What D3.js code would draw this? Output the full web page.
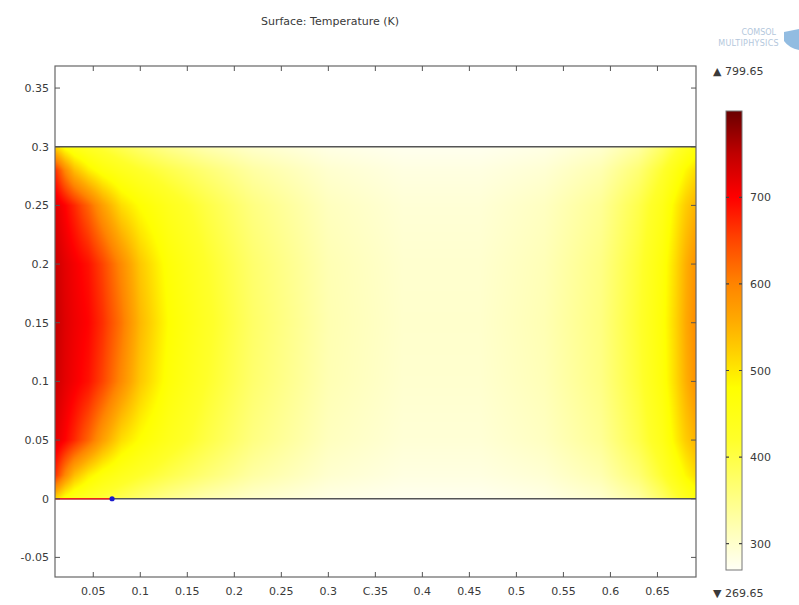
<!DOCTYPE html>
<html>
<head>
<meta charset="utf-8">
<script src="https://cdn.jsdelivr.net/npm/d3@7"></script>
<style>
  body { margin: 0; background: #fff; }
  svg { display: block; font-family: "DejaVu Sans", sans-serif; }
  .lbl { fill: #3a3a3a; font-size: 11px; }
</style>
</head>
<body>
<svg id="chart" width="799" height="605"></svg>
<script>
// grid positions (m) and temperatures (K)
var grid_x = [0.0093, 0.02, 0.03, 0.045, 0.06, 0.08, 0.1, 0.13, 0.17, 0.22, 0.3, 0.38, 0.46, 0.53, 0.59, 0.63, 0.655, 0.67, 0.68, 0.691];
var grid_y = [0, 0.02, 0.05, 0.1, 0.15, 0.2, 0.25, 0.28, 0.3];
var temp_y000 = [520, 470, 445, 425, 410, 390, 370, 345, 320, 300, 282, 275, 275, 282, 298, 330, 375, 410, 435, 460];
var temp_y002 = [670, 595, 540, 495, 465, 440, 420, 395, 365, 330, 298, 285, 285, 295, 320, 365, 415, 455, 485, 510];
var temp_y005 = [725, 700, 672, 625, 570, 510, 478, 440, 400, 355, 310, 293, 293, 308, 340, 395, 445, 495, 525, 550];
var temp_y010 = [742, 722, 708, 688, 652, 592, 530, 470, 420, 370, 318, 298, 298, 315, 352, 410, 465, 515, 552, 585];
var temp_y015 = [748, 726, 713, 698, 667, 612, 545, 480, 428, 375, 320, 300, 300, 318, 355, 415, 470, 520, 558, 592];
var temp_y020 = [742, 722, 708, 688, 652, 592, 530, 470, 420, 370, 318, 298, 298, 315, 352, 410, 465, 515, 552, 585];
var temp_y025 = [725, 700, 672, 625, 570, 510, 478, 440, 400, 355, 310, 293, 293, 308, 340, 395, 445, 495, 525, 550];
var temp_y028 = [670, 595, 540, 495, 465, 440, 420, 395, 365, 330, 298, 285, 285, 295, 320, 365, 415, 455, 485, 510];
var temp_y030 = [520, 470, 445, 425, 410, 390, 370, 345, 320, 300, 282, 275, 275, 282, 298, 330, 375, 410, 435, 460];
var temp_rows = [temp_y000, temp_y002, temp_y005, temp_y010, temp_y015, temp_y020, temp_y025, temp_y028, temp_y030];

var x_ticks = [0.05, 0.1, 0.15, 0.2, 0.25, 0.3, 0.35, 0.4, 0.45, 0.5, 0.55, 0.6, 0.65];
var x_tick_labels = ["0.05", "0.1", "0.15", "0.2", "0.25", "0.3", "C.35", "0.4", "0.45", "0.5", "0.55", "0.6", "0.65"];
var y_ticks = [-0.05, 0, 0.05, 0.1, 0.15, 0.2, 0.25, 0.3, 0.35];
var y_tick_labels = ["-0.05", "0", "0.05", "0.1", "0.15", "0.2", "0.25", "0.3", "0.35"];
var cbar_ticks = [300, 400, 500, 600, 700];
var temp_min = 269.65;
var temp_max = 799.65;
var heater_end = 0.07;

// colour map stops (K)
var cmap_stops = [269.65, 300, 350, 420, 480, 520, 560, 600, 650, 700, 750, 799.65];
var cmap_colors = ["#fffff6", "#ffffcc", "#ffff88", "#ffff2a", "#ffff00", "#ffd200", "#ffa800", "#ff8400", "#ff4600", "#ff0000", "#c00000", "#6a0000"];

var svg = d3.select("#chart");
var x = d3.scaleLinear().domain([0.0093, 0.691]).range([55, 696]);
var y = d3.scaleLinear().domain([-0.0667, 0.3688]).range([577, 66]);
var color = d3.scaleLinear().domain(cmap_stops).range(cmap_colors).clamp(true);

// title
svg.append("text").attr("class", "lbl")
  .attr("x", 330).attr("y", 25).attr("text-anchor", "middle")
  .style("font-size", "11px")
  .text("Surface: Temperature (K)");

// logo
var logo = svg.append("g").attr("fill", "#b3c7dc").style("font-size", "8px").attr("text-anchor", "end");
logo.append("text").attr("x", 776).attr("y", 35).text("COMSOL");
logo.append("text").attr("x", 779).attr("y", 46).style("letter-spacing", "0.3px").text("MULTIPHYSICS");
svg.append("path")
  .attr("d", "M784,32 L799,29 L799,50 Q789,48 784,41 Z")
  .attr("fill", "#7fb0dc").attr("opacity", 0.85);

// surface raster
function temp_at(xv, yv)
{
  let i = Math.max(0, Math.min(grid_x.length - 2, d3.bisectRight(grid_x, xv) - 1));
  let j = Math.max(0, Math.min(grid_y.length - 2, d3.bisectRight(grid_y, yv) - 1));
  let tx = Math.max(0, Math.min(1, (xv - grid_x[i]) / (grid_x[i + 1] - grid_x[i])));
  let ty = Math.max(0, Math.min(1, (yv - grid_y[j]) / (grid_y[j + 1] - grid_y[j])));
  let a = temp_rows[j][i] * (1 - tx) + temp_rows[j][i + 1] * tx;
  let b = temp_rows[j + 1][i] * (1 - tx) + temp_rows[j + 1][i + 1] * tx;
  return a * (1 - ty) + b * ty;
}

let px0 = Math.round(x(grid_x[0])), px1 = Math.round(x(grid_x[grid_x.length - 1]));
let py0 = Math.round(y(0.3)), py1 = Math.round(y(0));
let w = px1 - px0, h = py1 - py0;
let canvas = document.createElement("canvas");
canvas.width = w; canvas.height = h;
let ctx = canvas.getContext("2d");
let img = ctx.createImageData(w, h);
for (let r = 0; r < h; r++)
{
  let yv = y.invert(py0 + r + 0.5);
  for (let c = 0; c < w; c++)
  {
    let xv = x.invert(px0 + c + 0.5);
    let col = d3.rgb(color(temp_at(xv, yv)));
    let k = (r * w + c) * 4;
    img.data[k] = col.r; img.data[k + 1] = col.g; img.data[k + 2] = col.b; img.data[k + 3] = 255;
  }
}
ctx.putImageData(img, 0, 0);
svg.append("image")
  .attr("x", px0).attr("y", py0).attr("width", w).attr("height", h)
  .attr("href", canvas.toDataURL());

// domain edges at y = 0 and y = 0.3
svg.selectAll(".edge").data([0, 0.3]).enter().append("line")
  .attr("x1", x(grid_x[0])).attr("x2", x(grid_x[grid_x.length - 1]))
  .attr("y1", function(d){return y(d);}).attr("y2", function(d){return y(d);})
  .attr("stroke", "#555").attr("stroke-width", 1.3);

// heater boundary + point
svg.append("line")
  .attr("x1", x(grid_x[0])).attr("x2", x(heater_end))
  .attr("y1", y(0)).attr("y2", y(0))
  .attr("stroke", "#ee2020").attr("stroke-width", 1.6);
svg.append("circle")
  .attr("cx", x(heater_end)).attr("cy", y(0)).attr("r", 2.6)
  .attr("fill", "#1a1acc");

// frame + inward ticks
let frame = svg.append("g");
frame.append("rect")
  .attr("x", x.range()[0]).attr("y", y.range()[1])
  .attr("width", x.range()[1] - x.range()[0]).attr("height", y.range()[0] - y.range()[1])
  .attr("fill", "none").attr("stroke", "#666").attr("stroke-width", 1.2);

let tick_len = 5;
frame.selectAll(".xt").data(x_ticks).enter().append("path")
  .attr("d", function(d){
    let px = x(d);
    return "M" + px + "," + y.range()[0] + "v" + (-tick_len) + "M" + px + "," + y.range()[1] + "v" + tick_len;
  })
  .attr("stroke", "#555").attr("stroke-width", 1);
frame.selectAll(".yt").data(y_ticks).enter().append("path")
  .attr("d", function(d){
    let py = y(d);
    return "M" + x.range()[0] + "," + py + "h" + tick_len + "M" + x.range()[1] + "," + py + "h" + (-tick_len);
  })
  .attr("stroke", "#555").attr("stroke-width", 1);

svg.selectAll(".xl").data(x_ticks).enter().append("text")
  .attr("class", "lbl").attr("text-anchor", "middle")
  .attr("x", function(d){return x(d);}).attr("y", 595)
  .text(function(d, i){return x_tick_labels[i];});
svg.selectAll(".yl").data(y_ticks).enter().append("text")
  .attr("class", "lbl").attr("text-anchor", "end")
  .attr("x", 49).attr("y", function(d){return y(d) + 4;})
  .text(function(d, i){return y_tick_labels[i];});

// colour bar
let cb = d3.scaleLinear().domain([temp_min, temp_max]).range([570, 111]);
let cb_x = 726, cb_w = 16;
let defs = svg.append("defs");
let grad = defs.append("linearGradient").attr("id", "cbar-grad")
  .attr("x1", 0).attr("y1", 1).attr("x2", 0).attr("y2", 0);
grad.selectAll("stop").data(cmap_stops).enter().append("stop")
  .attr("offset", function(d){return (d - temp_min) / (temp_max - temp_min);})
  .attr("stop-color", function(d, i){return cmap_colors[i];});
svg.append("rect")
  .attr("x", cb_x).attr("y", cb(temp_max)).attr("width", cb_w).attr("height", cb(temp_min) - cb(temp_max))
  .attr("fill", "url(#cbar-grad)").attr("stroke", "#777").attr("stroke-width", 1);
svg.selectAll(".cbt").data(cbar_ticks).enter().append("path")
  .attr("d", function(d){
    let py = cb(d);
    return "M" + cb_x + "," + py + "h3M" + (cb_x + cb_w) + "," + py + "h-3";
  })
  .attr("stroke", "#444").attr("stroke-width", 1.2);
svg.selectAll(".cbl").data(cbar_ticks).enter().append("text")
  .attr("class", "lbl").attr("x", 750).attr("y", function(d){return cb(d) + 4;})
  .text(function(d){return d;});
svg.append("text").attr("class", "lbl").attr("x", 713).attr("y", 75).text("\u25B2 " + temp_max.toFixed(2));
svg.append("text").attr("class", "lbl").attr("x", 713).attr("y", 597).text("\u25BC " + temp_min.toFixed(2));
</script>
</body>
</html>
